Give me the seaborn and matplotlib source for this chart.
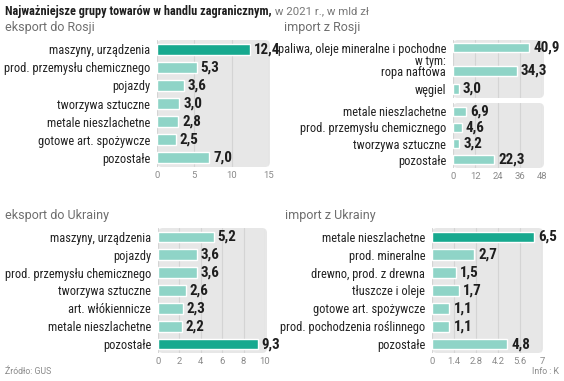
import matplotlib
matplotlib.use("Agg")
import matplotlib.pyplot as plt
import seaborn as sns
import pandas as pd
from matplotlib.patches import FancyBboxPatch

sns.set_theme(style="white")
plt.rcParams['font.family'] = ['Roboto Condensed', 'Archivo Narrow', 'PT Sans Narrow', 'DejaVu Sans']
WIDE = ['Roboto', 'DejaVu Sans']

# ---- data ----
ru_exp_cats = ["maszyny, urządzenia", "prod. przemysłu chemicznego", "pojazdy",
               "tworzywa sztuczne", "metale nieszlachetne", "gotowe art. spożywcze", "pozostałe"]
ru_exp_vals = [12.4, 5.3, 3.6, 3.0, 2.8, 2.5, 7.0]
ru_exp_hl = [True, False, False, False, False, False, False]

ru_imp_main_cats = ["paliwa, oleje mineralne i pochodne"]
ru_imp_main_vals = [40.9]
ru_imp_sub_cats = ["ropa naftowa", "węgiel"]
ru_imp_sub_vals = [34.3, 3.0]
ru_imp_bot_cats = ["metale nieszlachetne", "prod. przemysłu chemicznego", "tworzywa sztuczne", "pozostałe"]
ru_imp_bot_vals = [6.9, 4.6, 3.2, 22.3]

ua_exp_cats = ["maszyny, urządzenia", "pojazdy", "prod. przemysłu chemicznego",
               "tworzywa sztuczne", "art. włókiennicze", "metale nieszlachetne", "pozostałe"]
ua_exp_vals = [5.2, 3.6, 3.6, 2.6, 2.3, 2.2, 9.3]
ua_exp_hl = [False, False, False, False, False, False, True]

ua_imp_cats = ["metale nieszlachetne", "prod. mineralne", "drewno, prod. z drewna",
               "tłuszcze i oleje", "gotowe art. spożywcze", "prod. pochodzenia roślinnego", "pozostałe"]
ua_imp_vals = [6.5, 2.7, 1.5, 1.7, 1.1, 1.1, 4.8]
ua_imp_hl = [True, False, False, False, False, False, False]

ticks_ru_exp = [0, 5, 10, 15]
ticks_ru_imp = [0, 12, 24, 36, 48]
ticks_ua_exp = [0, 2, 4, 6, 8, 10]
ticks_ua_imp = [0, 1.4, 2.8, 4.2, 5.6, 7]

DARK = "#17a98f"
LIGHT = "#8fd4c7"
BOX = "#e7e7e7"
GRID = "#d4d4d4"

W, H = 564, 381
fig = plt.figure(figsize=(W / 100, H / 100), dpi=100)
fig.patch.set_facecolor("white")


def frac(x0, y0, x1, y1):
    return [x0 / W, 1 - y1 / H, (x1 - x0) / W, (y1 - y0) / H]


def add_ax(x0, y0, x1, y1):
    return fig.add_axes(frac(x0, y0, x1, y1))


def fig_box(x0, y0, x1, y1, r=5):
    b = frac(x0, y0, x1, y1)
    p = FancyBboxPatch((b[0], b[1]), b[2], b[3],
                       boxstyle=f"round,pad=0,rounding_size={r / W}",
                       mutation_aspect=W / H, transform=fig.transFigure,
                       facecolor=BOX, edgecolor="none", zorder=-5)
    fig.patches.append(p)


def panel(ax, cats, vals, hl, ticks, xmax, width, show_x=True, ylim=None):
    df = pd.DataFrame({"cat": cats, "val": vals})
    pal = [DARK if h else LIGHT for h in hl]
    sns.barplot(data=df, y="cat", x="val", hue="cat", palette=pal, orient="h",
                legend=False, width=width, dodge=False, ax=ax, saturation=1, zorder=2)
    ax.set_facecolor("none")
    ax.set_xlim(0, xmax)
    ax.set_ylim(ylim if ylim is not None else (len(cats) - 0.5, -0.5))
    ax.set_xticks(ticks)
    ax.set_xticklabels([f"{t:g}" for t in ticks], family=WIDE)
    ax.grid(axis="x", color=GRID, lw=0.8)
    ax.grid(axis="y", visible=False)
    ax.set_axisbelow(True)
    for s in ax.spines.values():
        s.set_visible(False)
    ax.set_xlabel("")
    ax.set_ylabel("")
    ax.tick_params(axis="y", length=0, pad=5, labelsize=8.9, labelcolor="#222222")
    ax.tick_params(axis="x", length=0, pad=3, labelsize=6.8, labelcolor="#8a8a8a")
    if not show_x:
        ax.set_xticklabels([])
    for i, v in enumerate(vals):
        ax.annotate(f"{v:.1f}".replace(".", ","), xy=(v, i), xytext=(3, 0),
                    textcoords="offset points", va="center", ha="left",
                    fontsize=10.8, fontweight="bold", color="#1e1e1e", zorder=3,
                    annotation_clip=False)


# Panel 1: eksport do Rosji
fig_box(157, 40, 270, 167)
ax1 = add_ax(157, 40, 269, 167)
panel(ax1, ru_exp_cats, ru_exp_vals, ru_exp_hl, ticks_ru_exp, 15, 0.6)

# Panel 2: import z Rosji
fig_box(453, 40, 544, 98)
ax2m = add_ax(453, 40, 542, 62)
panel(ax2m, ru_imp_main_cats, ru_imp_main_vals, [False], ticks_ru_imp, 48, 0.6,
      show_x=False, ylim=(0.95, -0.5))
ax2s = add_ax(453, 62, 542, 98)
panel(ax2s, ru_imp_sub_cats, ru_imp_sub_vals, [False, False], ticks_ru_imp, 48, 0.55,
      show_x=False, ylim=(1.5, -0.5))
fig.text(446 / W, 1 - 61 / H, "w tym:", ha="right", va="center", fontsize=8.6,
         color="#222222")
fig_box(453, 103, 544, 168)
ax2b = add_ax(453, 103, 542, 168)
panel(ax2b, ru_imp_bot_cats, ru_imp_bot_vals, [False] * 4, ticks_ru_imp, 48, 0.55)

# Panel 3: eksport do Ukrainy
fig_box(158, 228, 267, 353)
ax3 = add_ax(158, 228, 265, 353)
panel(ax3, ua_exp_cats, ua_exp_vals, ua_exp_hl, ticks_ua_exp, 10, 0.6)

# Panel 4: import z Ukrainy
fig_box(432, 228, 543, 353)
ax4 = add_ax(432, 228, 542, 353)
panel(ax4, ua_imp_cats, ua_imp_vals, ua_imp_hl, ticks_ua_imp, 7, 0.6)

# Titles
ty = 1 - 14.5 / H
t1 = fig.text(5 / W, ty, "Najważniejsze grupy towarów w handlu zagranicznym,",
              fontsize=8.8, fontweight="bold", color="#1e1e1e", va="baseline", ha="left")
fig.canvas.draw()
bb = t1.get_window_extent(renderer=fig.canvas.get_renderer())
fig.text(bb.x1 / W, ty, " w 2021 r., w mld zł", fontsize=8.2, color="#777777",
         family=WIDE, va="baseline", ha="left")

sub_kw = dict(fontsize=9, color="#6e6e6e", va="center", ha="left", family=WIDE)
fig.text(5 / W, 1 - 28 / H, "eksport do Rosji", **sub_kw)
fig.text(284 / W, 1 - 28 / H, "import z Rosji", **sub_kw)
fig.text(5 / W, 1 - 215 / H, "eksport do Ukrainy", **sub_kw)
fig.text(285 / W, 1 - 215 / H, "import z Ukrainy", **sub_kw)

fig.text(5 / W, 1 - 372 / H, "Źródło: GUS", fontsize=6.3, color="#8a8a8a", va="center",
         ha="left", family=WIDE)
fig.text(559 / W, 1 - 372 / H, "Info : K", fontsize=6.3, color="#8a8a8a", va="center",
         ha="right", family=WIDE)

fig.savefig("out.png", dpi=100)
